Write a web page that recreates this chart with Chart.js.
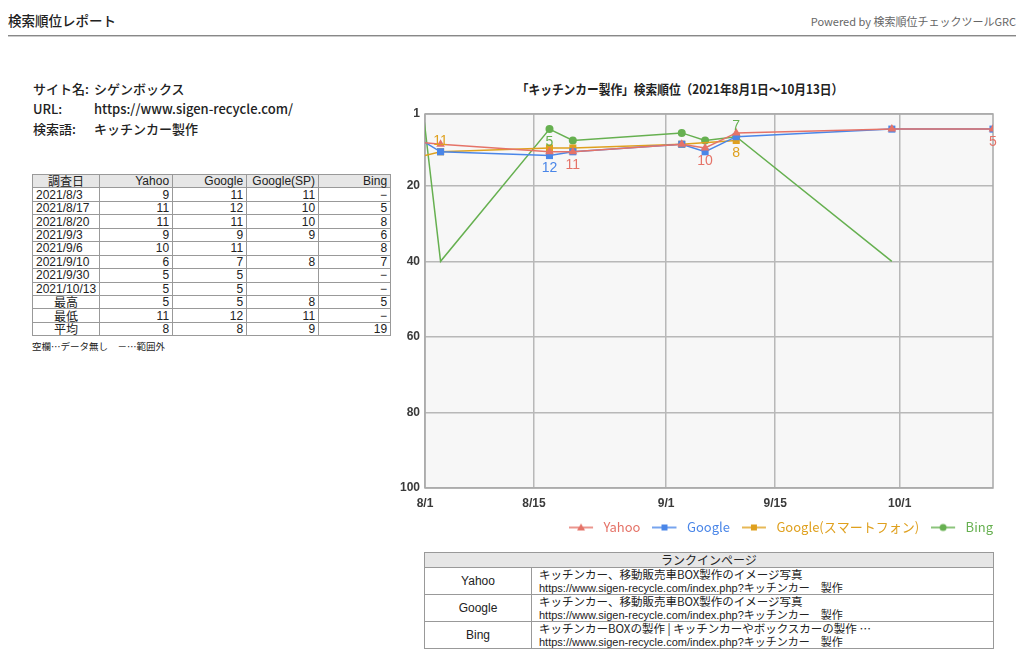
<!DOCTYPE html>
<html><head><meta charset="utf-8">
<script src="https://cdn.jsdelivr.net/npm/chart.js@4.4.0/dist/chart.umd.min.js"></script>
<style>
body{margin:0;background:#fff;font-family:"Noto Sans CJK JP","Noto Sans",sans-serif;color:#222;}
#page{position:relative;width:1024px;height:659px;overflow:hidden;background:#fff;}
.abs{position:absolute;white-space:nowrap;}
#hdr{left:8px;top:10px;font-size:13.5px;line-height:20px;color:#222;font-weight:500;}
#pw{right:8px;top:12px;font-size:11px;line-height:18px;color:#666;}
#hline{position:absolute;left:8px;top:35px;width:1008px;height:0;border-top:1px solid #888;border-bottom:1px solid #ccc;}
.info{left:33px;font-size:13px;line-height:18px;color:#222;font-weight:500;}
.info span{display:inline-block;width:61px;}
#rank{left:32px;top:174px;border-collapse:collapse;font-family:"Liberation Sans","Noto Sans CJK JP",sans-serif;font-size:12px;color:#222;}
#rank td{border:1px solid #999;height:12.45px;line-height:12px;padding:0 3px;text-align:right;}
#rank tr.h td{background:#e6e6e6;}
#rank td.c{text-align:center;font-family:"Noto Sans CJK JP",sans-serif;}
#rank td.l{text-align:left;}
#note{left:32px;top:339px;font-size:9.5px;line-height:14px;color:#222;}
#ctitle{left:470px;top:80px;width:420px;text-align:center;font-size:13px;line-height:18px;color:#222;font-weight:bold;transform:scaleX(0.9);}
#chartbox{position:absolute;left:390px;top:100px;width:625px;height:444px;}
#pages{left:424px;top:552px;border-collapse:collapse;font-size:11.5px;color:#222;width:570px;}
#pages td{border:1px solid #999;padding:0 0 0 7px;}
#pages tr.h td{background:#e6e6e6;text-align:center;height:14px;line-height:14px;font-size:12px;padding:0;}
#pages td.e{text-align:center;width:106px;padding:0;font-family:"Liberation Sans","Noto Sans CJK JP",sans-serif;font-size:12px;}
#pages td.p{height:25.7px;line-height:12.5px;}
#pages .u{font-size:11px;font-family:"Liberation Sans","Noto Sans CJK JP",sans-serif;}
</style></head><body>
<div id="page">
  <div class="abs" id="hdr">検索順位レポート</div>
  <div class="abs" id="pw">Powered by 検索順位チェックツールGRC</div>
  <div id="hline"></div>
  <div class="abs info" style="top:80px"><span>サイト名:</span>シゲンボックス</div>
  <div class="abs info" style="top:100px"><span>URL:</span>https://www.sigen-recycle.com/</div>
  <div class="abs info" style="top:120px"><span>検索語:</span>キッチンカー製作</div>
  <table class="abs" id="rank"></table>
  <div class="abs" id="note">空欄…データ無し　－…範囲外</div>
  <div class="abs" id="ctitle">「キッチンカー製作」検索順位（2021年8月1日～10月13日）</div>
  <div id="chartbox"><canvas id="c" width="625" height="444"></canvas></div>
  <table class="abs" id="pages"></table>
</div>
<script>
// ---- table data ----
const tableHeaders = ['調査日','Yahoo','Google','Google(SP)','Bing'];
const tableDates = ['2021/8/3','2021/8/17','2021/8/20','2021/9/3','2021/9/6','2021/9/10','2021/9/30','2021/10/13'];
const tableYahoo = ['9','11','11','9','10','6','5','5'];
const tableGoogle = ['11','12','11','9','11','7','5','5'];
const tableGoogleSP = ['11','10','10','9','','8','',''];
const tableBing = ['−','5','8','6','8','7','−','−'];
const summaryLabels = ['最高','最低','平均'];
const summaryYahoo = ['5','11','8'];
const summaryGoogle = ['5','12','8'];
const summaryGoogleSP = ['8','11','9'];
const summaryBing = ['5','−','19'];

// ---- chart data ----
const seriesNames = ['Yahoo','Google','Google(スマートフォン)','Bing'];
const chartDates = ['2021-07-31','2021-08-03','2021-08-17','2021-08-20','2021-09-03','2021-09-06','2021-09-10','2021-09-30','2021-10-13'];
const yahooRank = [8.4, 9, 11, 11, 9, 10, 6, 5, 5];
const googleRank = [7.3, 11, 12, 11, 9, 11, 7, 5, 5];
const googleSPRank = [12.5, 11, 10, 10, 9, null, 8, null, null];
const bingRank = [-13, 40, 5, 8, 6, 8, 7, 40, null];
const bingOutOfRange = [true, true, false, false, false, false, false, true, false];
const yahooLabelIdx = [3, 5, 8];
const googleLabelIdx = [2];
const googleSPLabelIdx = [1, 6];
const bingLabelIdx = [2, 6];
const labelsAbove = {'2-1': true, '3-6': true};
const xMinDate = '2021-08-01';
const xMaxDate = '2021-10-13';
const xTickDates = ['2021-08-01','2021-08-15','2021-09-01','2021-09-15','2021-10-01'];
const xTickLabels = ['8/1','8/15','9/1','9/15','10/1'];
const yTicks = [1, 20, 40, 60, 80, 100];

// ---- rank-in pages ----
const engines = ['Yahoo','Google','Bing'];
const pageTitles = ['キッチンカー、移動販売車BOX製作のイメージ写真','キッチンカー、移動販売車BOX製作のイメージ写真','キッチンカーBOXの製作 | キッチンカーやボックスカーの製作 …'];
const pageUrls = ['https://www.sigen-recycle.com/index.php?キッチンカー　製作','https://www.sigen-recycle.com/index.php?キッチンカー　製作','https://www.sigen-recycle.com/index.php?キッチンカー　製作'];

// build tables
(function(){
  const t = document.getElementById('rank');
  const widths = [67,73,74,72,72];
  let h = '<tr class="h">' + tableHeaders.map((x,i)=>`<td class="${i===0?'c':''}" style="width:${widths[i]-7}px">${x}</td>`).join('') + '</tr>';
  tableDates.forEach((d,i)=>{
    h += `<tr><td class="l">${d}</td><td>${tableYahoo[i]}</td><td>${tableGoogle[i]}</td><td>${tableGoogleSP[i]}</td><td>${tableBing[i]}</td></tr>`;
  });
  summaryLabels.forEach((d,i)=>{
    h += `<tr><td class="c">${d}</td><td>${summaryYahoo[i]}</td><td>${summaryGoogle[i]}</td><td>${summaryGoogleSP[i]}</td><td>${summaryBing[i]}</td></tr>`;
  });
  t.innerHTML = h;
  const p = document.getElementById('pages');
  let g = '<tr class="h"><td colspan="2">ランクインページ</td></tr>';
  engines.forEach((e,i)=>{
    g += `<tr><td class="e">${e}</td><td class="p">${pageTitles[i]}<br><span class="u">${pageUrls[i]}</span></td></tr>`;
  });
  p.innerHTML = g;
})();

function dayNum(s){ const [y,m,d] = s.split('-').map(Number); return (Date.UTC(y,m-1,d) - Date.UTC(2021,7,1)) / 86400000; }
const xs = chartDates.map(dayNum);
const pts = arr => arr.map((v,i)=>({x: xs[i], y: v}));

const colors = ['#e57368','#4a86e8','#dfa01e','#66b050'];
const styles = ['triangle','rect','rect','circle'];
const radii = [5,5,5,4];
const rankSets = [yahooRank, googleRank, googleSPRank, bingRank];
const labelIdx = [yahooLabelIdx, googleLabelIdx, googleSPLabelIdx, bingLabelIdx];

function legendIcon(i){
  const c = document.createElement('canvas');
  c.width = 28; c.height = 12;
  const x = c.getContext('2d');
  x.strokeStyle = colors[i]; x.lineWidth = 1.5;
  x.beginPath(); x.moveTo(0,6); x.lineTo(24,6); x.stroke();
  x.fillStyle = colors[i];
  x.beginPath();
  if (styles[i] === 'triangle') { x.moveTo(12,2); x.lineTo(16,9); x.lineTo(8,9); x.closePath(); }
  else if (styles[i] === 'rect') { x.rect(9,3,6,6); }
  else { x.arc(12,6,3.5,0,Math.PI*2); }
  x.fill();
  return c;
}

const datasets = rankSets.map((arr,i)=>({
  label: seriesNames[i],
  data: pts(arr),
  borderColor: colors[i],
  backgroundColor: colors[i],
  borderWidth: 1.5,
  pointStyle: styles[i],
  pointRadius: i===3 ? bingOutOfRange.map(o=>o?0:radii[i]) : radii[i],
  pointBorderWidth: 0,
  spanGaps: true,
  tension: 0
}));

const bgPlugin = {
  id:'bg',
  beforeDraw(ch){ const a=ch.chartArea, c=ch.ctx; c.save(); c.fillStyle='#f7f7f7'; c.fillRect(a.left,a.top,a.right-a.left,a.bottom-a.top); c.restore(); },
  beforeDatasetsDraw(ch){ const a=ch.chartArea, c=ch.ctx; c.save(); c.strokeStyle='#a8a8a8'; c.lineWidth=1.5; c.strokeRect(a.left,a.top,a.right-a.left,a.bottom-a.top); c.restore(); },
  afterDatasetsDraw(ch){
    const c = ch.ctx; c.save();
    c.font = '14px "Liberation Sans", sans-serif'; c.textAlign='center'; c.textBaseline='middle';
    labelIdx.forEach((list,di)=>{
      const meta = ch.getDatasetMeta(di);
      list.forEach(i=>{
        const el = meta.data[i]; const v = rankSets[di][i];
        c.fillStyle = colors[di];
        const above = labelsAbove[di+'-'+i];
        c.fillText(String(v), el.x, above ? el.y - 11 : el.y + 13);
      });
    });
    c.restore();
  }
};

const tickFont = {family:'"Liberation Sans", sans-serif', size:12, weight:'bold'};
new Chart(document.getElementById('c'), {
  type:'line',
  data:{datasets},
  plugins:[bgPlugin],
  options:{
    responsive:false, animation:false, events:[],
    layout:{padding:{top:14,right:10,left:0,bottom:0}},
    scales:{
      x:{type:'linear', min:dayNum(xMinDate), max:dayNum(xMaxDate),
        afterBuildTicks:s=>{ s.ticks = xTickDates.map(d=>({value:dayNum(d)})); },
        afterFit:s=>{ s.height = 21; },
        grid:{color:'#b8b8b8', lineWidth:1.5, drawTicks:false},
        border:{display:false},
        ticks:{padding:8, color:'#3a3a3a', font:tickFont, maxRotation:0, autoSkip:false,
          callback:(v,i)=>xTickLabels[i]}
      },
      y:{type:'linear', reverse:true, min:1, max:100,
        afterBuildTicks:s=>{ s.ticks = yTicks.map(v=>({value:v})); },
        afterFit:s=>{ s.width = 35; },
        grid:{color:'#b8b8b8', lineWidth:1.5, drawTicks:false},
        border:{display:false},
        ticks:{padding:5, color:'#3a3a3a', font:tickFont, autoSkip:false}
      },
      yRight:{type:'linear', position:'right', reverse:true, min:1, max:100,
        afterFit:s=>{ s.width = 12; },
        grid:{display:false, drawTicks:false}, border:{display:false},
        ticks:{display:false}
      }
    },
    plugins:{
      tooltip:{enabled:false},
      legend:{position:'bottom', align:'end',
        labels:{usePointStyle:true, pointStyleWidth:28, boxHeight:12, padding:12,
          font:{family:'"Noto Sans CJK JP", sans-serif', size:13},
          generateLabels:(ch)=>ch.data.datasets.map((d,i)=>({
            text:d.label, fillStyle:colors[i], strokeStyle:colors[i], fontColor:colors[i],
            pointStyle:legendIcon(i), lineWidth:0, hidden:false, datasetIndex:i
          }))
        }
      }
    }
  }
});
</script>
</body></html>
